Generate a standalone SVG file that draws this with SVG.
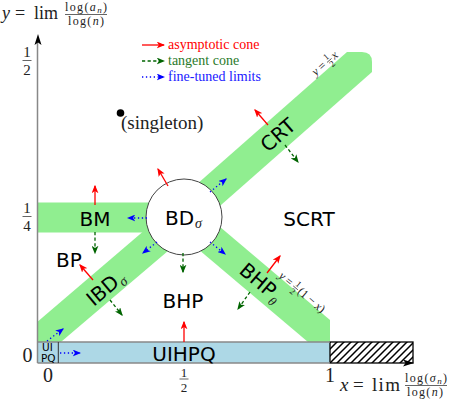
<svg xmlns="http://www.w3.org/2000/svg" width="450" height="401" viewBox="0 0 450 401">
<style>
.sf{font-family:"DejaVu Sans",sans-serif;font-size:20px;fill:#000}
.rm{font-family:"Liberation Serif","Times New Roman","DejaVu Serif",serif;fill:#222}
.it{font-style:italic}
.band{fill:#90EE90}
.ar{fill:none;stroke-width:1.3}
.red{stroke:#ff0000;marker-end:url(#mr)}
.grn{stroke:#006400;stroke-dasharray:3.2 2.4;marker-end:url(#mg)}
.blu{stroke:#0000ff;stroke-dasharray:1.3 2.6;marker-end:url(#mb)}
.bar{stroke:#222;stroke-width:0.7}
</style>
<defs>
<marker id="mr" viewBox="0 0 10 8" refX="8.5" refY="4" markerWidth="8.5" markerHeight="7" markerUnits="userSpaceOnUse" orient="auto"><path d="M0,0 L10,4 L0,8 L2.5,4 z" fill="#ff0000"/></marker>
<marker id="mg" viewBox="0 0 10 8" refX="8.5" refY="4" markerWidth="8.5" markerHeight="7" markerUnits="userSpaceOnUse" orient="auto"><path d="M0,0 L10,4 L0,8 L2.5,4 z" fill="#006400"/></marker>
<marker id="mb" viewBox="0 0 10 8" refX="8.5" refY="4" markerWidth="8.5" markerHeight="7" markerUnits="userSpaceOnUse" orient="auto"><path d="M0,0 L10,4 L0,8 L2.5,4 z" fill="#0000ff"/></marker>
<pattern id="hatch" patternUnits="userSpaceOnUse" width="7" height="7"><path d="M-1,1 L1,-1 M0,7 L7,0 M6,8 L8,6" stroke="#000" stroke-width="1.5"/></pattern>
</defs>

<g id="regions">
  <rect class="band" x="37.5" y="202.5" width="130" height="30"/>
  <path class="band" d="M190,190.2 L347,52 L362,52 Q372,52 372,62 L372,72 L200,223.4 Z"/>
  <path class="band" d="M200,210 L330,320 L330,342 L308,342 L190,242.2 Z"/>
  <path class="band" d="M37.5,321.7 L170,208.6 L180,240.8 L60.9,342 L37.5,342 Z"/>
  <rect x="37.5" y="342" width="292.5" height="21" fill="#ADD8E6"/>
  <rect x="330" y="342" width="83" height="21" fill="url(#hatch)" stroke="#000" stroke-width="1.3"/>
  <line x1="37.5" y1="342" x2="330" y2="342" stroke="#888" stroke-width="1.5"/>
  <line x1="37.5" y1="363" x2="330" y2="363" stroke="#888" stroke-width="1.5"/>
</g>

<g id="axes">
  <line x1="37.5" y1="363" x2="37.5" y2="42" stroke="#888" stroke-width="1.5"/>
  <path d="M38,34 L41.5,45 L38,42.5 L34.5,45 Z" fill="#000"/>
  <path d="M414,363 L403,366.5 L405.5,363 L403,359.5 Z" fill="#000"/>
</g>

<g id="ytitle" class="rm">
  <text x="2" y="19" font-size="18" class="it">y</text>
  <text x="15" y="19" font-size="18">=</text>
  <text x="34" y="19" font-size="18">lim</text>
  <text x="86" y="11" font-size="12" text-anchor="middle" textLength="42">log(<tspan class="it">a</tspan><tspan class="it" font-size="9" dy="2">n</tspan><tspan dy="-2">)</tspan></text>
  <line class="bar" x1="65" y1="14.5" x2="107" y2="14.5"/>
  <text x="86" y="25" font-size="12" text-anchor="middle" textLength="36">log(<tspan class="it">n</tspan>)</text>
</g>

<g id="xtitle" class="rm">
  <text x="340" y="391" font-size="19" class="it">x</text>
  <text x="353" y="391" font-size="19">=</text>
  <text x="372" y="391" font-size="19" textLength="28">lim</text>
  <text x="426" y="382" font-size="12" text-anchor="middle" textLength="42">log(<tspan class="it">σ</tspan><tspan class="it" font-size="9" dy="2">n</tspan><tspan dy="-2">)</tspan></text>
  <line class="bar" x1="405" y1="385.5" x2="447" y2="385.5"/>
  <text x="425" y="396" font-size="12" text-anchor="middle" textLength="36">log(<tspan class="it">n</tspan>)</text>
</g>

<g id="ticks" class="rm">
  <text x="27" y="57" font-size="15" text-anchor="middle">1</text>
  <line class="bar" x1="22.5" y1="60.5" x2="31.5" y2="60.5"/>
  <text x="27" y="74.5" font-size="15" text-anchor="middle">2</text>
  <text x="27" y="213" font-size="15" text-anchor="middle">1</text>
  <line class="bar" x1="22.5" y1="216.5" x2="31.5" y2="216.5"/>
  <text x="27" y="230.5" font-size="15" text-anchor="middle">4</text>
  <text x="27.5" y="362" font-size="20" text-anchor="middle">0</text>
  <text x="48" y="382" font-size="20" text-anchor="middle">0</text>
  <text x="184" y="376.5" font-size="13" text-anchor="middle">1</text>
  <line class="bar" x1="179.5" y1="379" x2="188.5" y2="379"/>
  <text x="184" y="392" font-size="13" text-anchor="middle">2</text>
  <text x="330" y="382" font-size="20" text-anchor="middle">1</text>
</g>

<g id="legend" class="rm" font-size="14">
  <text x="168" y="49" style="fill:#ff0000">asymptotic cone</text>
  <text x="168" y="65" style="fill:#2a7a2a">tangent cone</text>
  <text x="168" y="81" style="fill:#2020ff">fine-tuned limits</text>
</g>

<g id="node-singleton">
  <circle cx="120.5" cy="113" r="3.8" fill="#000"/>
  <text class="rm" x="121" y="129" font-size="19">(singleton)</text>
</g>

<g id="node-BD">
  <circle cx="184" cy="217" r="38" fill="#fff" stroke="#444" stroke-width="1"/>
  <text class="sf" x="165" y="225">BD</text>
  <text class="rm it" x="195" y="228" font-size="14">σ</text>
</g>
<g id="node-BM"><text class="sf" x="95" y="226" text-anchor="middle">BM</text></g>
<g id="node-BP"><text class="sf" x="69" y="267" text-anchor="middle">BP</text></g>
<g id="node-SCRT"><text class="sf" x="309" y="226" text-anchor="middle">SCRT</text></g>
<g id="node-BHP"><text class="sf" x="183" y="308" text-anchor="middle">BHP</text></g>
<g id="node-UIHPQ"><text class="sf" x="184" y="361" text-anchor="middle">UIHPQ</text></g>
<g id="node-UIPQ">
  <line x1="58.3" y1="342" x2="58.3" y2="363" stroke="#333" stroke-width="1"/>
  <text class="sf" x="47.5" y="351" text-anchor="middle" style="font-size:10.5px">UI</text>
  <text class="sf" x="48.3" y="361.5" text-anchor="middle" style="font-size:10.5px">PQ</text>
</g>
<g id="node-IBD" transform="translate(103,290) rotate(-40.4)">
  <text class="sf" x="-18" y="7">IBD</text>
  <text class="rm it" x="17.5" y="11" font-size="14">σ</text>
</g>
<g id="node-CRT" transform="translate(278,135) rotate(-41.3)">
  <text class="sf" x="0" y="7" text-anchor="middle">CRT</text>
</g>
<g id="node-BHPtheta" transform="translate(258,280) rotate(40.2)">
  <text class="sf" x="0" y="7" text-anchor="middle">BHP</text>
  <text class="rm it" x="21.5" y="11.5" font-size="13">θ</text>
</g>
<g id="label-crt-line" class="rm" transform="translate(326,62) rotate(-41.3)" font-size="12">
  <text x="-17" y="4" class="it">y</text>
  <text x="-9" y="4">=</text>
  <text x="3.5" y="-1" font-size="9" text-anchor="middle">1</text>
  <line class="bar" x1="0.5" y1="1" x2="6.5" y2="1" stroke-width="0.5"/>
  <text x="3.5" y="8.5" font-size="9" text-anchor="middle">2</text>
  <text x="8" y="4" class="it">x</text>
</g>
<g id="label-bhp-line" class="rm" transform="translate(305,294.5) rotate(40)" font-size="12">
  <text x="-32" y="4" class="it">y</text>
  <text x="-24" y="4">=</text>
  <text x="-11.5" y="-1" font-size="9" text-anchor="middle">1</text>
  <line class="bar" x1="-14.5" y1="1" x2="-8.5" y2="1" stroke-width="0.5"/>
  <text x="-11.5" y="8.5" font-size="9" text-anchor="middle">2</text>
  <text x="-7.5" y="4">(1 − <tspan class="it">x</tspan>)</text>
</g>

<g id="connectors" class="ar">
  <line class="red" x1="142" y1="45" x2="164" y2="45"/>
  <line class="grn" x1="142" y1="61" x2="164" y2="61"/>
  <line class="blu" x1="142" y1="77" x2="164" y2="77"/>

  <line class="red" x1="184" y1="342" x2="184" y2="322"/>
  <line class="red" x1="95" y1="205" x2="95" y2="186"/>
  <line class="red" x1="93" y1="280" x2="80" y2="265"/>
  <line class="red" x1="168" y1="186" x2="158" y2="169"/>
  <line class="red" x1="268" y1="125" x2="255" y2="110"/>
  <line class="red" x1="267" y1="273" x2="280" y2="256"/>

  <line class="grn" x1="95" y1="232" x2="95" y2="253"/>
  <line class="grn" x1="110" y1="300" x2="122" y2="315"/>
  <line class="grn" x1="183" y1="253" x2="183" y2="272"/>
  <line class="grn" x1="285" y1="145" x2="298" y2="162"/>
  <line class="grn" x1="250" y1="292" x2="238" y2="309"/>

  <line class="blu" x1="60" y1="353" x2="80" y2="353"/>
  <line class="blu" x1="47" y1="341" x2="63" y2="329"/>
  <line class="blu" x1="147" y1="218" x2="128" y2="218"/>
  <line class="blu" x1="210" y1="192" x2="226" y2="179"/>
  <line class="blu" x1="157" y1="242" x2="143" y2="253"/>
  <line class="blu" x1="210" y1="242" x2="225" y2="254"/>
</g>
</svg>
